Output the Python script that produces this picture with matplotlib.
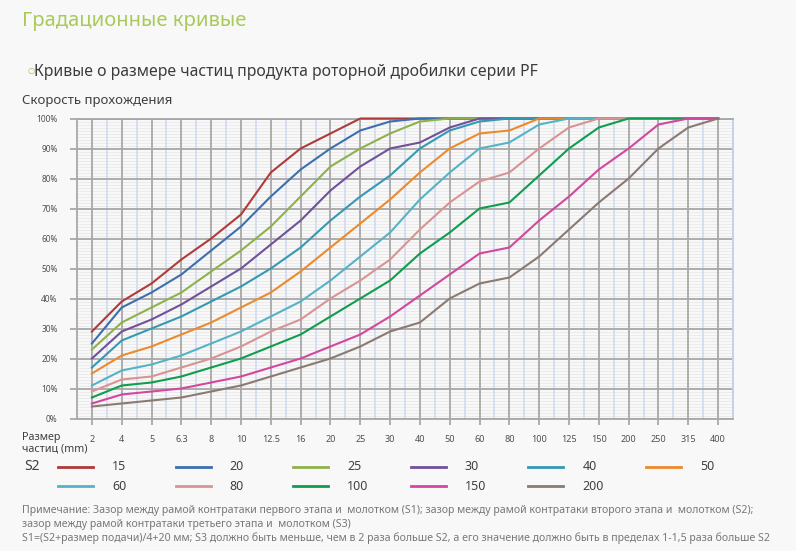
import numpy as np
import matplotlib
matplotlib.use("Agg")
import matplotlib.pyplot as plt
from matplotlib.lines import Line2D
from matplotlib.ticker import FixedLocator, FuncFormatter

plt.rcParams['font.family'] = ['Noto Sans', 'DejaVu Sans']

# particle sizes, mm (category axis)
sizes = ['2', '4', '5', '6.3', '8', '10', '12.5', '16', '20', '25', '30',
         '40', '50', '60', '80', '100', '125', '150', '200', '250', '315', '400']

# passing rate, % per S2 gap
s2_15 = [29, 39, 45, 53, 60, 68, 82, 90, 95, 100, 100, 100, 100, 100, 100, 100, 100, 100, 100, 100, 100, 100]
s2_20 = [25, 37, 42, 48, 56, 64, 74, 83, 90, 96, 99, 100, 100, 100, 100, 100, 100, 100, 100, 100, 100, 100]
s2_25 = [23, 32, 37, 42, 49, 56, 64, 74, 84, 90, 95, 99, 100, 100, 100, 100, 100, 100, 100, 100, 100, 100]
s2_30 = [20, 29, 33, 38, 44, 50, 58, 66, 76, 84, 90, 92, 97, 100, 100, 100, 100, 100, 100, 100, 100, 100]
s2_40 = [17, 26, 30, 34, 39, 44, 50, 57, 66, 74, 81, 90, 96, 99, 100, 100, 100, 100, 100, 100, 100, 100]
s2_50 = [15, 21, 24, 28, 32, 37, 42, 49, 57, 65, 73, 82, 90, 95, 96, 100, 100, 100, 100, 100, 100, 100]
s2_60 = [11, 16, 18, 21, 25, 29, 34, 39, 46, 54, 62, 73, 82, 90, 92, 98, 100, 100, 100, 100, 100, 100]
s2_80 = [9, 13, 14, 17, 20, 24, 29, 33, 40, 46, 53, 63, 72, 79, 82, 90, 97, 100, 100, 100, 100, 100]
s2_100 = [7, 11, 12, 14, 17, 20, 24, 28, 34, 40, 46, 55, 62, 70, 72, 81, 90, 97, 100, 100, 100, 100]
s2_150 = [5, 8, 9, 10, 12, 14, 17, 20, 24, 28, 34, 41, 48, 55, 57, 66, 74, 83, 90, 98, 100, 100]
s2_200 = [4, 5, 6, 7, 9, 11, 14, 17, 20, 24, 29, 32, 40, 45, 47, 54, 63, 72, 80, 90, 97, 100]

series_names = ['15', '20', '25', '30', '40', '50', '60', '80', '100', '150', '200']
series = [s2_15, s2_20, s2_25, s2_30, s2_40, s2_50, s2_60, s2_80, s2_100, s2_150, s2_200]
colors = ['#b03a3a', '#3d6fae', '#8fb14c', '#70519a', '#3599b3', '#ec8a2c',
          '#55b3c6', '#d99393', '#0f9d4e', '#d2479f', '#8b7a72']

W, H = 796, 551
bg = '#f8f8f8'
fig = plt.figure(figsize=(W / 100, H / 100), dpi=100, facecolor=bg)


def fx(x):
    return x / W


def fy(y):
    return 1 - y / H


ax = fig.add_axes([fx(77), fy(418.5), fx(733) - fx(77), fy(118.5) - fy(418.5)])
ax.set_facecolor(bg)

x = np.arange(len(sizes))
ax.set_xlim(-0.5, len(sizes) - 0.5)
ax.set_ylim(0, 100)

# grid: faint 1% lines under everything, then blue half-steps, then grey majors
ax.hlines(np.arange(1, 100, 1), 0, 1, transform=ax.get_yaxis_transform(),
          color='#ebebeb', lw=0.7, zorder=0.1)
ax.xaxis.set_major_locator(FixedLocator(x))
ax.xaxis.set_minor_locator(FixedLocator(x[:-1] + 0.5))
ax.yaxis.set_major_locator(FixedLocator(np.arange(0, 101, 10)))
ax.grid(which='minor', axis='x', color='#cdd9ee', lw=1.1)
ax.grid(which='major', axis='both', color='#a8a8a8', lw=1.3)
ax.set_axisbelow(True)

for i, vals in enumerate(series):
    ax.plot(x, vals, color=colors[i], lw=1.5, zorder=3, clip_on=False)

ax.set_xticklabels(sizes)
ax.yaxis.set_major_formatter(FuncFormatter(lambda v, p: '%d%%' % v))
ax.tick_params(axis='x', which='major', length=4, width=1.3, color='#a8a8a8',
               labelsize=6.5, labelcolor='#505050', pad=8)
ax.tick_params(axis='y', which='major', length=5, width=1.3, color='#a8a8a8',
               labelsize=6, labelcolor='#505050', pad=9)
ax.tick_params(which='minor', length=0)
for lbl in ax.get_yticklabels():
    lbl.set_fontweight('bold')

for s in ['left', 'bottom', 'top']:
    ax.spines[s].set_color('#a8a8a8')
    ax.spines[s].set_linewidth(1.3)
ax.spines['right'].set_color('#c0cfe8')
ax.spines['right'].set_linewidth(1.3)

# header texts
fig.text(fx(22), fy(21), 'Градационные кривые', fontsize=14.5, color='#a9c95a',
         va='center', ha='left')
fig.text(fx(27), fy(70), '○', fontsize=6, color='#9bbf4a', va='center', ha='left',
         family=['DejaVu Sans'])
fig.text(fx(34), fy(71), 'Кривые о размере частиц продукта роторной дробилки серии PF',
         fontsize=11.4, color='#3c3c3c', va='center', ha='left')
fig.text(fx(22), fy(100), 'Скорость прохождения', fontsize=9.5, color='#404040',
         va='center', ha='left')
fig.text(fx(22), fy(443), 'Размер\nчастиц (mm)', fontsize=7.8, color='#404040',
         va='center', ha='left', linespacing=1.0)

# legend
fig.text(fx(24), fy(467), 'S2', fontsize=10, color='#404040', va='center', ha='left')
for i, name in enumerate(series_names):
    row, col = divmod(i, 6)
    x0 = 58 + col * 117.6
    y0 = 467 + row * 19
    fig.add_artist(Line2D([fx(x0), fx(x0 + 35)], [fy(y0), fy(y0)],
                          transform=fig.transFigure, color=colors[i], lw=2))
    fig.text(fx(x0 + 54), fy(y0), name, fontsize=9, color='#404040',
             va='center', ha='left')

# notes
notes = [
    'Примечание: Зазор между рамой контратаки первого этапа и  молотком (S1); '
    'зазор между рамой контратаки второго этапа и  молотком (S2);',
    'зазор между рамой контратаки третьего этапа и  молотком (S3)',
    'S1=(S2+размер подачи)/4+20 мм; S3 должно быть меньше, чем в 2 раза больше S2, '
    'а его значение должно быть в пределах 1-1,5 раза больше S2',
]
for k, line in enumerate(notes):
    fig.text(fx(22), fy(510 + k * 14), line, fontsize=7.6, color='#787878',
             va='center', ha='left')

fig.savefig('out.png', dpi=100, facecolor=bg)
